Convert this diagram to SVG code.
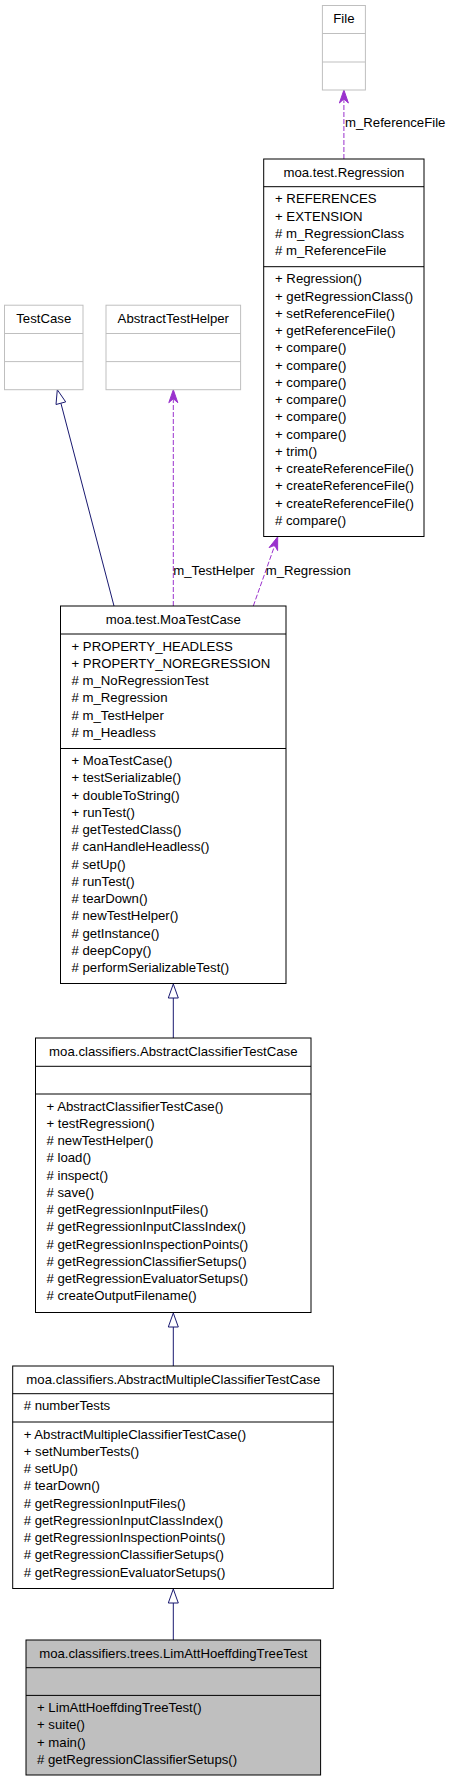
<svg xmlns="http://www.w3.org/2000/svg" width="449" height="1784" viewBox="0 0 449 1784">
<style>
text{font-family:"Liberation Sans",Arial,sans-serif;font-size:13.2px;fill:#000}
.t{text-anchor:middle}
.box{fill:#fff;stroke:#000;stroke-width:1}
.ext{fill:#fff;stroke:#bfbfbf;stroke-width:1}
.cur{fill:#bfbfbf;stroke:#000;stroke-width:1}
.dv{stroke:#000;stroke-width:1}
.dvg{stroke:#bfbfbf;stroke-width:1}
.inh{stroke:#191970;stroke-width:1;fill:none}
.tri{stroke:#191970;stroke-width:1;fill:#fff}
.dep{stroke:#9a32cd;stroke-width:1;fill:none;stroke-dasharray:5,2}
.vee{fill:#9a32cd;stroke:#9a32cd;stroke-width:1}
</style>
<rect width="449" height="1784" fill="#fff"/>
<g id="connectors">
<path class="dep" d="M343.9,159 L343.9,96"/>
<polygon class="vee" points="343.9,90 348.4,103 343.9,99 339.4,103"/>
<text x="345" y="127">m_ReferenceFile</text>
<path class="inh" d="M114,606 L60.9,403.2"/>
<polygon class="tri" points="57.3,389.7 65.7,401.9 56,404.5"/>
<path class="dep" d="M173.3,606 L173.3,396"/>
<polygon class="vee" points="173.3,389.7 177.8,402.7 173.3,398.7 168.8,402.7"/>
<text x="173.3" y="575">m_TestHelper</text>
<path class="dep" d="M253.3,606 L275.6,543"/>
<polygon class="vee" points="277.7,536.8 277.6,550.6 274.7,545.3 269.1,547.6"/>
<text x="265.7" y="575">m_Regression</text>
<path class="inh" d="M173.3,1038 L173.3,998"/>
<polygon class="tri" points="173.3,984 178.3,998 168.3,998"/>
<path class="inh" d="M173.3,1366 L173.3,1327"/>
<polygon class="tri" points="173.3,1313 178.3,1327 168.3,1327"/>
<path class="inh" d="M173.3,1640 L173.3,1603"/>
<polygon class="tri" points="173.3,1589 178.3,1603 168.3,1603"/>
</g>
<g id="File">
<rect class="ext" x="322.4" y="5.5" width="43" height="84.5"/>
<line class="dvg" x1="322.4" y1="33.5" x2="365.4" y2="33.5"/>
<line class="dvg" x1="322.4" y1="62" x2="365.4" y2="62"/>
<text class="t" x="343.9" y="23">File</text>
</g>
<g id="Regression">
<rect class="box" x="263.7" y="159" width="160.3" height="377.5"/>
<line class="dv" x1="263.7" y1="186.7" x2="424" y2="186.7"/>
<line class="dv" x1="263.7" y1="266.7" x2="424" y2="266.7"/>
<text class="t" x="343.9" y="176.5">moa.test.Regression</text>
<text x="275" y="203.3">+ REFERENCES</text>
<text x="275" y="220.5">+ EXTENSION</text>
<text x="275" y="237.8"># m_RegressionClass</text>
<text x="275" y="255"># m_ReferenceFile</text>
<text x="275" y="283.3">+ Regression()</text>
<text x="275" y="300.5">+ getRegressionClass()</text>
<text x="275" y="317.8">+ setReferenceFile()</text>
<text x="275" y="335">+ getReferenceFile()</text>
<text x="275" y="352.3">+ compare()</text>
<text x="275" y="369.5">+ compare()</text>
<text x="275" y="386.8">+ compare()</text>
<text x="275" y="404">+ compare()</text>
<text x="275" y="421.3">+ compare()</text>
<text x="275" y="438.5">+ compare()</text>
<text x="275" y="455.8">+ trim()</text>
<text x="275" y="473">+ createReferenceFile()</text>
<text x="275" y="490.3">+ createReferenceFile()</text>
<text x="275" y="507.5">+ createReferenceFile()</text>
<text x="275" y="524.8"># compare()</text>
</g>
<g id="TestCase">
<rect class="ext" x="4.5" y="305.2" width="78.5" height="84.5"/>
<line class="dvg" x1="4.5" y1="333.5" x2="83" y2="333.5"/>
<line class="dvg" x1="4.5" y1="361.6" x2="83" y2="361.6"/>
<text class="t" x="43.75" y="323">TestCase</text>
</g>
<g id="AbstractTestHelper">
<rect class="ext" x="106" y="305.2" width="134.6" height="84.5"/>
<line class="dvg" x1="106" y1="333.5" x2="240.6" y2="333.5"/>
<line class="dvg" x1="106" y1="361.6" x2="240.6" y2="361.6"/>
<text class="t" x="173.3" y="323">AbstractTestHelper</text>
</g>
<g id="MoaTestCase">
<rect class="box" x="60.5" y="606" width="225.5" height="377.5"/>
<line class="dv" x1="60.5" y1="634" x2="286" y2="634"/>
<line class="dv" x1="60.5" y1="748.5" x2="286" y2="748.5"/>
<text class="t" x="173.3" y="623.5">moa.test.MoaTestCase</text>
<text x="71.5" y="650.6">+ PROPERTY_HEADLESS</text>
<text x="71.5" y="667.9">+ PROPERTY_NOREGRESSION</text>
<text x="71.5" y="685.1"># m_NoRegressionTest</text>
<text x="71.5" y="702.4"># m_Regression</text>
<text x="71.5" y="719.6"># m_TestHelper</text>
<text x="71.5" y="736.9"># m_Headless</text>
<text x="71.5" y="765.1">+ MoaTestCase()</text>
<text x="71.5" y="782.4">+ testSerializable()</text>
<text x="71.5" y="799.6">+ doubleToString()</text>
<text x="71.5" y="816.9">+ runTest()</text>
<text x="71.5" y="834.1"># getTestedClass()</text>
<text x="71.5" y="851.4"># canHandleHeadless()</text>
<text x="71.5" y="868.6"># setUp()</text>
<text x="71.5" y="885.9"># runTest()</text>
<text x="71.5" y="903.1"># tearDown()</text>
<text x="71.5" y="920.4"># newTestHelper()</text>
<text x="71.5" y="937.6"># getInstance()</text>
<text x="71.5" y="954.9"># deepCopy()</text>
<text x="71.5" y="972.1"># performSerializableTest()</text>
</g>
<g id="AbstractClassifierTestCase">
<rect class="box" x="35.5" y="1038" width="275.5" height="274.5"/>
<line class="dv" x1="35.5" y1="1066.3" x2="311" y2="1066.3"/>
<line class="dv" x1="35.5" y1="1094" x2="311" y2="1094"/>
<text class="t" x="173.3" y="1055.5">moa.classifiers.AbstractClassifierTestCase</text>
<text x="46.5" y="1110.6">+ AbstractClassifierTestCase()</text>
<text x="46.5" y="1127.9">+ testRegression()</text>
<text x="46.5" y="1145.1"># newTestHelper()</text>
<text x="46.5" y="1162.4"># load()</text>
<text x="46.5" y="1179.6"># inspect()</text>
<text x="46.5" y="1196.9"># save()</text>
<text x="46.5" y="1214.1"># getRegressionInputFiles()</text>
<text x="46.5" y="1231.4"># getRegressionInputClassIndex()</text>
<text x="46.5" y="1248.6"># getRegressionInspectionPoints()</text>
<text x="46.5" y="1265.9"># getRegressionClassifierSetups()</text>
<text x="46.5" y="1283.1"># getRegressionEvaluatorSetups()</text>
<text x="46.5" y="1300.4"># createOutputFilename()</text>
</g>
<g id="AbstractMultipleClassifierTestCase">
<rect class="box" x="12.7" y="1366" width="320.6" height="222.5"/>
<line class="dv" x1="12.7" y1="1393.7" x2="333.3" y2="1393.7"/>
<line class="dv" x1="12.7" y1="1422" x2="333.3" y2="1422"/>
<text class="t" x="173.3" y="1383.5">moa.classifiers.AbstractMultipleClassifierTestCase</text>
<text x="23.7" y="1410.3"># numberTests</text>
<text x="23.7" y="1438.6">+ AbstractMultipleClassifierTestCase()</text>
<text x="23.7" y="1455.9">+ setNumberTests()</text>
<text x="23.7" y="1473.1"># setUp()</text>
<text x="23.7" y="1490.4"># tearDown()</text>
<text x="23.7" y="1507.6"># getRegressionInputFiles()</text>
<text x="23.7" y="1524.9"># getRegressionInputClassIndex()</text>
<text x="23.7" y="1542.1"># getRegressionInspectionPoints()</text>
<text x="23.7" y="1559.4"># getRegressionClassifierSetups()</text>
<text x="23.7" y="1576.6"># getRegressionEvaluatorSetups()</text>
</g>
<g id="LimAttHoeffdingTreeTest">
<rect class="cur" x="26" y="1640" width="294.6" height="135"/>
<line class="dv" x1="26" y1="1667.7" x2="320.6" y2="1667.7"/>
<line class="dv" x1="26" y1="1695.4" x2="320.6" y2="1695.4"/>
<text class="t" x="173.3" y="1657.5">moa.classifiers.trees.LimAttHoeffdingTreeTest</text>
<text x="37" y="1712">+ LimAttHoeffdingTreeTest()</text>
<text x="37" y="1729.3">+ suite()</text>
<text x="37" y="1746.5">+ main()</text>
<text x="37" y="1763.8"># getRegressionClassifierSetups()</text>
</g>
</svg>
